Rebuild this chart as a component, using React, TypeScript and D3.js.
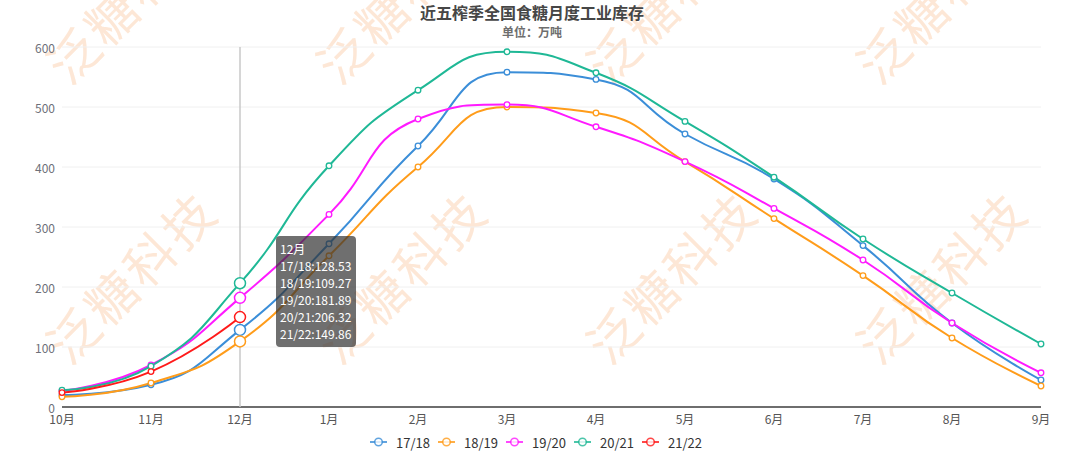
import React from "react";
import * as d3 from "d3";

const months = ["10月", "11月", "12月", "1月", "2月", "3月", "4月", "5月", "6月", "7月", "8月", "9月"];
const seriesNames = ["17/18", "18/19", "19/20", "20/21", "21/22"];
const s1718 = [20, 37, 128.53, 272, 435, 558, 546, 455, 380, 269, 140, 45];
const s1819 = [17, 40, 109.27, 252, 400, 500, 490, 409, 314, 219, 115, 35];
const s1920 = [27, 70, 181.89, 321, 480, 504, 467, 409, 331, 245, 140, 57];
const s2021 = [28, 68, 206.32, 402, 528, 592, 557, 476, 383, 280, 190, 105];
const s2122 = [24, 59, 149.86];
const seriesValues = [s1718, s1819, s1920, s2021, s2122];
const colors = ["#3b8ed8", "#ff9c1a", "#ff1aff", "#1fb896", "#ff1a1a"];
const yTicks = [0, 100, 200, 300, 400, 500, 600];
const hoverIndex = 2;
const title = "近五榨季全国食糖月度工业库存";
const subtitle = "单位：万吨";
const watermarkText = "泛糖科技";

const W = 1080;
const H = 453;
const FONT = "'Noto Sans CJK SC', 'Noto Sans', sans-serif";

function smoothPath(pts: [number, number][], smooth = 0.5): string {
  const p = d3.path();
  let prevX = 0, prevY = 0, cpx0 = 0, cpy0 = 0;
  const n = pts.length;
  for (let i = 0; i < n; i++) {
    const [x, y] = pts[i];
    if (i === 0) {
      p.moveTo(x, y);
      cpx0 = x;
      cpy0 = y;
    } else {
      let cpx1: number, cpy1: number;
      let nextCpx0 = x, nextCpy0 = y;
      if (i === n - 1) {
        cpx1 = x;
        cpy1 = y;
      } else {
        const [nextX, nextY] = pts[i + 1];
        let vx = nextX - prevX, vy = nextY - prevY;
        const dx0 = x - prevX, dx1 = nextX - x, dy0 = y - prevY, dy1 = nextY - y;
        const lenPrev = Math.hypot(dx0, dy0), lenNext = Math.hypot(dx1, dy1);
        const ratio = lenNext / (lenNext + lenPrev);
        nextCpx0 = x + vx * smooth * ratio;
        nextCpy0 = y + vy * smooth * ratio;
        nextCpx0 = Math.min(nextCpx0, Math.max(nextX, x));
        nextCpy0 = Math.min(nextCpy0, Math.max(nextY, y));
        nextCpx0 = Math.max(nextCpx0, Math.min(nextX, x));
        nextCpy0 = Math.max(nextCpy0, Math.min(nextY, y));
        vx = nextCpx0 - x;
        vy = nextCpy0 - y;
        cpx1 = x - (vx * lenPrev) / lenNext;
        cpy1 = y - (vy * lenPrev) / lenNext;
        cpx1 = Math.min(cpx1, Math.max(prevX, x));
        cpy1 = Math.min(cpy1, Math.max(prevY, y));
        cpx1 = Math.max(cpx1, Math.min(prevX, x));
        cpy1 = Math.max(cpy1, Math.min(prevY, y));
        vx = x - cpx1;
        vy = y - cpy1;
        nextCpx0 = x + (vx * lenNext) / lenPrev;
        nextCpy0 = y + (vy * lenNext) / lenPrev;
      }
      p.bezierCurveTo(cpx0, cpy0, cpx1, cpy1, x, y);
      cpx0 = nextCpx0;
      cpy0 = nextCpy0;
    }
    prevX = x;
    prevY = y;
  }
  return p.toString();
}

export default function App() {
  const x = d3.scalePoint<string>().domain(months).range([62, 1041]);
  const y = d3.scaleLinear().domain([0, 600]).range([407, 47]);

  const wmCols = [130, 400, 670, 940];
  const wmRows = [-5, 275];

  const legendStart = 370;
  const legendStep = 68;
  const legendY = 442;

  const hx = x(months[hoverIndex]) as number;
  const tipX = 276;
  const tipY = 236;
  const tipLines = [months[hoverIndex], ...seriesNames.map((n, i) => `${n}:${seriesValues[i][hoverIndex]}`)];

  return (
    <svg
      width={W}
      height={H}
      style={{ position: "absolute", left: 0, top: 0, background: "#fff" }}
      fontFamily={FONT}
    >
      <rect x={0} y={0} width={W} height={H} fill="#fff" />
      {/* watermark */}
      <g>
        {wmRows.map((ry) =>
          wmCols.map((cx) => (
            <text
              key={`${cx}-${ry}`}
              x={cx}
              y={ry}
              transform={`rotate(-45 ${cx} ${ry})`}
              textAnchor="middle"
              dominantBaseline="central"
              fontSize={50}
              letterSpacing={4}
              fill="#fde5d2"
              opacity={0.9}
            >
              {watermarkText}
            </text>
          ))
        )}
      </g>
      {/* title */}
      <text x={532} y={19} textAnchor="middle" fontSize={16} fontWeight="bold" fill="#464646">
        {title}
      </text>
      <text x={532} y={37} textAnchor="middle" fontSize={12} fontWeight="bold" fill="#6e6e6e">
        {subtitle}
      </text>
      {/* grid */}
      {yTicks.map((t) => (
        <g key={t}>
          {t !== 0 && (
            <line x1={62} x2={1041} y1={y(t)} y2={y(t)} stroke="#f0f0f0" strokeWidth={1} />
          )}
          <text x={55} y={y(t)} textAnchor="end" dominantBaseline="central" fontSize={12} fill="#6e7079">
            {t}
          </text>
        </g>
      ))}
      {/* x axis */}
      <line x1={62} x2={1041} y1={y(0)} y2={y(0)} stroke="#6e6e6e" strokeWidth={2} />
      {months.map((m) => (
        <text
          key={m}
          x={x(m) as number}
          y={418}
          textAnchor="middle"
          dominantBaseline="central"
          fontSize={12}
          fill="#555"
        >
          {m}
        </text>
      ))}
      {/* crosshair */}
      <line x1={hx} x2={hx} y1={y(600)} y2={y(0)} stroke="#c8c8c8" strokeWidth={1.5} />
      {/* lines */}
      {seriesValues.map((vals, si) => {
        const pts: [number, number][] = vals.map((v, i) => [x(months[i]) as number, y(v)]);
        return (
          <g key={si}>
            <path d={smoothPath(pts)} fill="none" stroke={colors[si]} strokeWidth={2} />
          </g>
        );
      })}
      {seriesValues.map((vals, si) => (
        <g key={`pts-${si}`}>
          {vals.map((v, i) => (
            <circle
              key={i}
              cx={x(months[i]) as number}
              cy={y(v)}
              r={i === hoverIndex ? 5.5 : 2.8}
              fill="#fff"
              stroke={colors[si]}
              strokeWidth={i === hoverIndex ? 1.5 : 1.3}
            />
          ))}
        </g>
      ))}
      {/* legend */}
      {seriesNames.map((n, i) => {
        const lx = legendStart + i * legendStep;
        return (
          <g key={n}>
            <line x1={lx} x2={lx + 17} y1={legendY} y2={legendY} stroke={colors[i]} strokeWidth={2} opacity={0.8} />
            <circle cx={lx + 8.5} cy={legendY} r={3.8} fill="#fff" stroke={colors[i]} strokeWidth={1.5} opacity={0.8} />
            <text x={lx + 26} y={legendY} dominantBaseline="central" fontSize={13} fill="#333">
              {n}
            </text>
          </g>
        );
      })}
      {/* tooltip */}
      <g>
        <rect x={tipX} y={tipY} width={80} height={111} rx={4} fill="rgba(50,50,50,0.7)" />
        {tipLines.map((t, i) => (
          <text
            key={i}
            x={tipX + 4}
            y={tipY + 12.5 + i * 17}
            dominantBaseline="central"
            fontSize={12}
            fill="#fff"
          >
            {t}
          </text>
        ))}
      </g>
    </svg>
  );
}
